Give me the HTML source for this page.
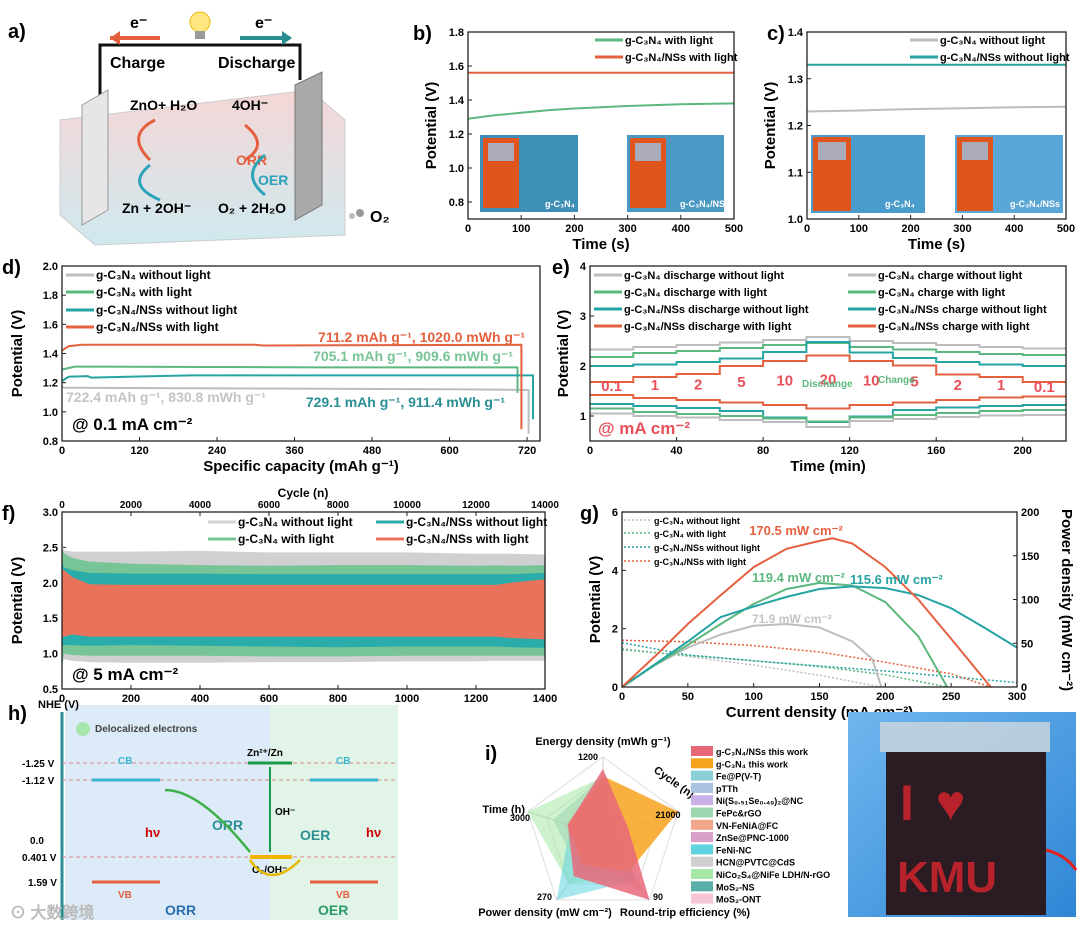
<!DOCTYPE html>
<html><head><meta charset="utf-8"><style>
body{margin:0;background:#fff}
svg{display:block;font-family:"Liberation Sans",Arial,sans-serif}
text{font-weight:bold}
</style></head><body>
<svg id="fig" width="1080" height="930" viewBox="0 0 1080 930" xmlns="http://www.w3.org/2000/svg">
<defs>
<linearGradient id="boxg" x1="0" y1="0" x2="0" y2="1"><stop offset="0" stop-color="#f3c9c9"/><stop offset="1" stop-color="#bfe3ea"/></linearGradient>
<linearGradient id="jbg" x1="0" y1="0" x2="1" y2="1"><stop offset="0" stop-color="#6fb6ee"/><stop offset="1" stop-color="#2f86d6"/></linearGradient>
</defs>
<g>
<text x="8" y="38" font-size="20">a)</text>
<polyline points="100,95 100,45 300,45 300,80" fill="none" stroke="#111" stroke-width="3"/>
<circle cx="200" cy="22" r="10" fill="#ffe680" stroke="#e6b800"/>
<rect x="195" y="31" width="10" height="8" fill="#999"/>
<path d="M110 38 L160 38" stroke="#e5603e" stroke-width="4"/><path d="M110 38 l10 -7 v14z" fill="#e5603e"/>
<text x="130" y="28" font-size="16">e⁻</text>
<path d="M240 38 L290 38" stroke="#2a8f93" stroke-width="4"/><path d="M292 38 l-10 -7 v14z" fill="#2a8f93"/>
<text x="255" y="28" font-size="16">e⁻</text>
<text x="110" y="68" font-size="16">Charge</text>
<text x="218" y="68" font-size="16">Discharge</text>
<polygon points="60,120 310,90 345,120 345,235 95,245 60,215" fill="url(#boxg)" opacity="0.75" stroke="#bbb"/>
<polygon points="82,105 108,90 108,210 82,225" fill="#e6e6e6" stroke="#999"/>
<polygon points="295,85 322,72 322,205 295,220" fill="#a9a9a9" stroke="#777"/>
<text x="130" y="110" font-size="14">ZnO+ H₂O</text>
<text x="232" y="110" font-size="14">4OH⁻</text>
<text x="236" y="165" font-size="14" fill="#e5603e">ORR</text>
<text x="258" y="185" font-size="14" fill="#2ba3b8">OER</text>
<text x="122" y="213" font-size="14">Zn + 2OH⁻</text>
<text x="218" y="213" font-size="14">O₂ + 2H₂O</text>
<text x="370" y="222" font-size="16">O₂</text>
<path d="M150 160 q-25 -25 5 -40" fill="none" stroke="#e5603e" stroke-width="3"/>
<path d="M150 165 q-25 20 10 35" fill="none" stroke="#2ba3b8" stroke-width="3"/>
<path d="M245 125 q25 20 0 35" fill="none" stroke="#e5603e" stroke-width="3"/>
<path d="M265 195 q-25 -20 0 -40" fill="none" stroke="#2ba3b8" stroke-width="3"/>
<circle cx="360" cy="213" r="4" fill="#999"/><circle cx="352" cy="216" r="3" fill="#bbb"/>
</g>
<g id="charts"></g>
<g>
<text x="8" y="720" font-size="20">h)</text>
<rect x="65" y="705" width="205" height="215" fill="#dcebf7"/>
<rect x="270" y="705" width="128" height="215" fill="#e2f3e8"/>
<text x="38" y="708" font-size="11">NHE (V)</text>
<line x1="62" y1="712" x2="62" y2="920" stroke="#2a8f93" stroke-width="3"/>
<text x="95" y="732" font-size="10" fill="#444">Delocalized electrons</text>
<circle cx="83" cy="729" r="7" fill="#9be39b" opacity="0.8"/>
<g font-size="10" font-weight="bold">
<text x="22" y="767">-1.25 V</text>
<text x="22" y="784">-1.12 V</text>
<text x="30" y="844">0.0</text>
<text x="22" y="861">0.401 V</text>
<text x="28" y="886">1.59 V</text>
</g>
<g stroke="#d98a8a" stroke-dasharray="4,3"><line x1="62" y1="763" x2="398" y2="763"/><line x1="62" y1="780" x2="398" y2="780"/><line x1="62" y1="857" x2="398" y2="857"/></g>
<line x1="92" y1="780" x2="160" y2="780" stroke="#3ab6d0" stroke-width="3"/>
<line x1="92" y1="882" x2="160" y2="882" stroke="#e5603e" stroke-width="3"/>
<line x1="310" y1="780" x2="378" y2="780" stroke="#3ab6d0" stroke-width="3"/>
<line x1="310" y1="882" x2="378" y2="882" stroke="#e5603e" stroke-width="3"/>
<text x="118" y="764" font-size="10" fill="#3ab6d0">CB</text><text x="336" y="764" font-size="10" fill="#3ab6d0">CB</text>
<text x="118" y="898" font-size="10" fill="#e5603e">VB</text><text x="336" y="898" font-size="10" fill="#e5603e">VB</text>
<line x1="248" y1="763" x2="292" y2="763" stroke="#1a9a4a" stroke-width="3"/>
<text x="247" y="756" font-size="10">Zn²⁺/Zn</text>
<line x1="250" y1="857" x2="292" y2="857" stroke="#f2b400" stroke-width="4"/>
<text x="252" y="873" font-size="10">O₂/OH⁻</text>
<line x1="270" y1="767" x2="270" y2="852" stroke="#1a9a4a" stroke-width="2"/>
<text x="275" y="815" font-size="10">OH⁻</text>
<text x="212" y="830" font-size="14" fill="#2a8f93">ORR</text>
<text x="300" y="840" font-size="14" fill="#2a8f93">OER</text>
<text x="165" y="915" font-size="14" fill="#2a6fb0">ORR</text>
<text x="318" y="915" font-size="14" fill="#2a9a6a">OER</text>
<text x="145" y="837" font-size="13" fill="#c00">hν</text><text x="366" y="837" font-size="13" fill="#c00">hν</text>
<path d="M165 790 Q200 790 250 852" fill="none" stroke="#3db04a" stroke-width="2.5"/>
<path d="M300 860 Q270 890 250 860" fill="none" stroke="#e6b800" stroke-width="2.5"/>
<text x="10" y="918" font-size="16" fill="#bbb" font-weight="normal">⊙ 大数跨境</text>
</g>
<g>
<text x="850" y="735" font-size="20">j)</text>
<rect x="848" y="712" width="228" height="205" fill="url(#jbg)"/>
<rect x="886" y="752" width="160" height="163" fill="#2a1c22"/>
<rect x="880" y="722" width="170" height="30" fill="#cfd8dc" opacity="0.8"/>
<text x="900" y="820" font-size="50" fill="#b8222a" font-weight="bold" letter-spacing="4">I ♥</text>
<text x="897" y="892" font-size="44" fill="#b8222a" font-weight="bold">KMU</text>
<path d="M1046 850 q20 5 30 20" stroke="#e02020" stroke-width="3" fill="none"/>
</g>
</svg>
<script>
const bTime=[0,50,100,150,200,300,400,500];
const bGreen=[1.29,1.31,1.325,1.34,1.35,1.365,1.375,1.38];
const bRed=[1.56,1.56,1.56,1.56,1.56,1.56,1.56,1.56];
const cTime=[0,100,200,300,400,500];
const cGray=[1.23,1.232,1.235,1.237,1.239,1.24];
const cTeal=[1.33,1.33,1.33,1.33,1.33,1.33];
const dCapRed=[0,10,30,300,310,711,711.2,711.2];
const dVRed=[1.42,1.45,1.46,1.46,1.455,1.46,1.46,0.88];
const dCapGreen=[0,20,60,400,705,705.1,705.1];
const dVGreen=[1.29,1.31,1.31,1.305,1.305,1.305,1.13];
const dCapTeal=[0,10,40,45,200,600,729,729.1,729.1];
const dVTeal=[1.21,1.24,1.245,1.235,1.25,1.25,1.25,1.25,0.95];
const dCapGray=[0,5,300,600,722,722.4,722.4];
const dVGray=[1.17,1.165,1.16,1.155,1.15,1.15,0.85];
const eRates=["0.1","1","2","5","10","20","10","5","2","1","0.1"];
const eGrayC=[2.33,2.38,2.42,2.47,2.52,2.58,2.50,2.46,2.42,2.38,2.35];
const eGreenC=[2.18,2.26,2.30,2.36,2.42,2.46,2.38,2.33,2.28,2.24,2.22];
const eTealC=[2.00,2.03,2.08,2.15,2.28,2.48,2.27,2.16,2.08,2.03,2.00];
const eRedC=[1.68,1.78,1.84,2.00,2.10,2.21,2.10,2.01,1.83,1.78,1.68];
const eRedD=[1.42,1.36,1.32,1.27,1.22,1.15,1.22,1.27,1.32,1.37,1.39];
const eTealD=[1.24,1.20,1.16,1.10,0.97,0.88,0.99,1.12,1.17,1.20,1.22];
const eGreenD=[1.15,1.08,1.04,1.00,0.95,0.89,0.97,1.02,1.06,1.10,1.12];
const eGrayD=[1.05,1.00,0.97,0.92,0.88,0.78,0.90,0.94,0.98,1.01,1.02];
const fTime=[0,5,30,80,200,400,600,800,1000,1200,1260,1300,1400];
const fGrayUp=[2.6,2.46,2.44,2.44,2.44,2.45,2.43,2.43,2.43,2.41,2.41,2.41,2.40];
const fGrayLo=[0.8,0.92,0.9,0.88,0.87,0.87,0.88,0.88,0.89,0.89,0.9,0.9,0.9];
const fGreenUp=[2.5,2.42,2.35,2.30,2.27,2.25,2.24,2.25,2.25,2.24,2.25,2.24,2.25];
const fGreenLo=[0.8,1.0,0.98,0.97,0.97,0.97,0.96,0.96,0.97,0.97,0.97,0.97,0.97];
const fTealUp=[2.3,2.22,2.18,2.14,2.13,2.13,2.12,2.12,2.12,2.12,2.12,2.12,2.14];
const fTealLo=[1.1,1.12,1.12,1.11,1.12,1.11,1.10,1.09,1.10,1.10,1.10,1.09,1.08];
const fRedUp=[2.2,2.18,2.08,1.98,1.97,1.97,1.97,1.97,1.97,1.97,1.97,2.0,2.05];
const fRedLo=[1.22,1.24,1.27,1.24,1.24,1.24,1.24,1.24,1.24,1.24,1.24,1.22,1.20];
const gJGray=[0,50,100,150,197];
const gVGray=[1.32,1.05,0.75,0.4,0];
const gJGreen=[0,50,100,150,200,247];
const gVGreen=[1.28,1.08,0.9,0.7,0.42,0];
const gJTeal=[0,20,50,100,150,200,250,300];
const gVTeal=[1.52,1.35,1.1,0.9,0.72,0.55,0.35,0.15];
const gJRed=[0,50,100,150,200,250,280];
const gVRed=[1.6,1.55,1.42,1.2,0.85,0.45,0];
const gPJGray=[0,25,50,75,100,125,150,175,190,197];
const gPGray=[0,25,45,60,70,72,68,52,32,0];
const gPJGreen=[0,25,50,75,100,125,150,175,200,225,247];
const gPGreen=[0,25,48,72,95,112,119,116,97,58,0];
const gPJTeal=[0,25,50,75,100,125,150,175,200,225,250,275,300];
const gPTeal=[0,26,52,80,92,103,112,115,113,105,90,68,45];
const gPJRed=[0,25,50,75,100,125,150,160,175,200,225,250,280];
const gPRed=[0,35,72,105,137,158,167,170,164,137,100,55,0];
const rAxes=["Energy density (mWh g⁻¹)","Cycle (n)","Round-trip efficiency (%)","Power density (mW cm⁻²)","Time (h)"];
const rMax=[1200,21000,90,270,3000];
const rNames=["g-C₃N₄/NSs this work","g-C₃N₄ this work","Fe@P(V-T)","pTTh","Ni(S₀.₅₁Se₀.₄₉)₂@NC","FePc&rGO","VN-FeNiA@FC","ZnSe@PNC-1000","FeNi-NC","HCN@PVTC@CdS","NiCo₂S₄@NiFe LDH/N-rGO","MoS₂-NS","MoS₂-ONT"];
const rColors=["#e8687a","#f7a21c","#8ccfd6","#a9c3e0","#c9b0e6","#9ed6b0","#f2a68a","#d9a0c8","#5fd3e0","#cfcfcf","#a6e8a6","#5aaea8","#f6c6d6"];
const rVals=[
[1020,7000,90,170,1400],
[910,21000,50,120,1400],
[880,3000,62,90,1000],
[800,2000,60,60,800],
[860,4000,65,100,1300],
[900,5000,65,140,2000],
[850,3000,62,120,1500],
[880,2500,60,90,1200],
[870,3500,62,270,1300],
[860,3000,80,80,1000],
[900,6000,60,200,3000],
[850,2000,58,150,1100],
[830,2500,85,90,900]];

const NS="http://www.w3.org/2000/svg";
const root=document.getElementById('charts');
function el(tag,attrs,parent){const e=document.createElementNS(NS,tag);for(const k in attrs)e.setAttribute(k,attrs[k]);(parent||root).appendChild(e);return e;}
function txt(x,y,s,size,attrs,parent){const t=el('text',Object.assign({x:x,y:y,'font-size':size},attrs||{}),parent);t.textContent=s;return t;}
function axes(c){
  const g=el('g',{});
  
  
  const sx=v=>c.L+(v-c.x0)/(c.x1-c.x0)*(c.R-c.L);
  const sy=v=>c.B-(v-c.y0)/(c.y1-c.y0)*(c.B-c.T);
  c.xt.forEach(v=>{el('line',{x1:sx(v),x2:sx(v),y1:c.B,y2:c.B-4,stroke:'#222'},g);const t=txt(sx(v),c.B+13,String(v),11,{'text-anchor':'middle'},g);});
  c.yt.forEach(v=>{el('line',{x1:c.L,x2:c.L+4,y1:sy(v),y2:sy(v),stroke:'#222'},g);const t=txt(c.L-4,sy(v)+4,c.yf?c.yf(v):String(v),11,{'text-anchor':'end'},g);});
  const xt=txt((c.L+c.R)/2,c.B+30,c.xlabel,15,{'text-anchor':'middle'},g);
  
  const yt=txt(0,0,c.ylabel,15,{'text-anchor':'middle',transform:`translate(${c.L-(c.ylo||32)},${(c.T+c.B)/2}) rotate(-90)`},g);
  
  const pl=txt(c.L-(c.plx||55),c.T+8,c.panel,20,{},g);
  
  const plot=el('g',{},g);
  el('rect',{x:c.L,y:c.T,width:c.R-c.L,height:c.B-c.T,fill:'none',stroke:'#222','stroke-width':1.3},g);
  return {sx,sy,g,plot};
}
function line(ax,xs,ys,color,name,w,dash){
  const d=xs.map((x,i)=>(i?'L':'M')+ax.sx(x).toFixed(1)+' '+ax.sy(ys[i]).toFixed(1)).join('');
  const p=el('path',{d:d,fill:'none',stroke:color,'stroke-width':w||2,'stroke-dasharray':dash||'none'},ax.plot);
  return p;
}
function legend(parent,x,y,color,label,name,dash,size){
  const g=el('g',{},parent);
  
  el('line',{x1:x,x2:x+28,y1:y-4,y2:y-4,stroke:color,'stroke-width':dash?1.5:3,'stroke-dasharray':dash?'2,2':'none'},g);
  txt(x+30,y,label,size||11,{},g);
}
const GR='#bdbdbd',GN='#5cb87e',TL='#26a3a3',RD='#e5603e';

{const ax=axes({name:'panel-b-chart',panel:'b)',L:468,R:734,T:32,B:219,x0:0,x1:500,y0:0.7,y1:1.8,xt:[0,100,200,300,400,500],yt:[0.8,1.0,1.2,1.4,1.6,1.8],yf:v=>v.toFixed(1),xlabel:'Time (s)',ylabel:'Potential (V)',ylo:32});
 el('rect',{x:480,y:135,width:98,height:77,fill:'#3d8fb8'},ax.plot);el('rect',{x:627,y:135,width:97,height:77,fill:'#4a98c4'},ax.plot);
 el('rect',{x:483,y:138,width:36,height:70,fill:'#e0551e'},ax.plot);el('rect',{x:630,y:138,width:36,height:70,fill:'#e0551e'},ax.plot);
 el('rect',{x:488,y:143,width:26,height:18,fill:'#aab'},ax.plot);el('rect',{x:635,y:143,width:26,height:18,fill:'#aab'},ax.plot);
 txt(545,207,'g-C₃N₄',9,{fill:'#fff'},ax.plot);txt(680,207,'g-C₃N₄/NSs',9,{fill:'#fff'},ax.plot);
 line(ax,bTime,bGreen,GN,'series-gc3n4-with-light');line(ax,bTime,bRed,RD,'series-nss-with-light');
 legend(ax.g,595,44,GN,'g-C₃N₄ with light','legend-entry-green');legend(ax.g,595,61,RD,'g-C₃N₄/NSs with light','legend-entry-red');}
{const ax=axes({name:'panel-c-chart',panel:'c)',L:807,R:1066,T:32,B:219,x0:0,x1:500,y0:1.0,y1:1.4,xt:[0,100,200,300,400,500],yt:[1.0,1.1,1.2,1.3,1.4],yf:v=>v.toFixed(1),xlabel:'Time (s)',ylabel:'Potential (V)',ylo:32,plx:40});
 el('rect',{x:811,y:135,width:114,height:78,fill:'#4a9ccc'},ax.plot);el('rect',{x:955,y:135,width:108,height:78,fill:'#5aa6d6'},ax.plot);
 el('rect',{x:813,y:137,width:38,height:74,fill:'#e0551e'},ax.plot);el('rect',{x:957,y:137,width:36,height:74,fill:'#e0551e'},ax.plot);
 el('rect',{x:818,y:142,width:28,height:18,fill:'#aab'},ax.plot);el('rect',{x:962,y:142,width:26,height:18,fill:'#aab'},ax.plot);
 txt(885,207,'g-C₃N₄',9,{fill:'#fff'},ax.plot);txt(1010,207,'g-C₃N₄/NSs',9,{fill:'#fff'},ax.plot);
 line(ax,cTime,cGray,GR,'series-gc3n4-without-light');line(ax,cTime,cTeal,TL,'series-nss-without-light');
 legend(ax.g,910,44,GR,'g-C₃N₄ without light','legend-entry-gray');legend(ax.g,910,61,TL,'g-C₃N₄/NSs without light','legend-entry-teal');}
{const ax=axes({name:'panel-d-chart',panel:'d)',L:62,R:540,T:266,B:441,x0:0,x1:740,y0:0.8,y1:2.0,xt:[0,120,240,360,480,600,720],yt:[0.8,1.0,1.2,1.4,1.6,1.8,2.0],yf:v=>v.toFixed(1),xlabel:'Specific capacity (mAh g⁻¹)',ylabel:'Potential (V)',ylo:40,plx:60});
 line(ax,dCapGray,dVGray,GR,'series-gc3n4-without-light');line(ax,dCapGreen,dVGreen,GN,'series-gc3n4-with-light');
 line(ax,dCapTeal,dVTeal,TL,'series-nss-without-light');line(ax,dCapRed,dVRed,RD,'series-nss-with-light');
 legend(ax.g,66,279,GR,'g-C₃N₄ without light','legend-entry-gray',0,12);legend(ax.g,66,296,GN,'g-C₃N₄ with light','legend-entry-green',0,12);
 legend(ax.g,66,314,TL,'g-C₃N₄/NSs without light','legend-entry-teal',0,12);legend(ax.g,66,331,RD,'g-C₃N₄/NSs with light','legend-entry-red',0,12);
 txt(525,342,'711.2 mAh g⁻¹, 1020.0 mWh g⁻¹',14,{fill:RD,'text-anchor':'end'},ax.g);
 txt(513,361,'705.1 mAh g⁻¹, 909.6 mWh g⁻¹',14,{fill:'#77c497','text-anchor':'end'},ax.g);
 txt(66,402,'722.4 mAh g⁻¹, 830.8 mWh g⁻¹',14,{fill:'#c4c4c4'},ax.g);
 txt(505,407,'729.1 mAh g⁻¹, 911.4 mWh g⁻¹',14,{fill:'#2a8f93','text-anchor':'end'},ax.g);
 txt(72,430,'@ 0.1 mA cm⁻²',17,{},ax.g);}
{const ax=axes({name:'panel-e-chart',panel:'e)',L:590,R:1066,T:266,B:441,x0:0,x1:220,y0:0.5,y1:4,xt:[0,40,80,120,160,200],yt:[1,2,3,4],xlabel:'Time (min)',ylabel:'Potential (V)',ylo:22,plx:38});
 function steps(vals){const xs=[],ys=[];vals.forEach((v,i)=>{xs.push(i*20,(i+1)*20);ys.push(v,v);});return [xs,ys];}
 [[eGrayC,GR,'gray-charge'],[eGreenC,GN,'green-charge'],[eTealC,TL,'teal-charge'],[eRedC,RD,'red-charge'],[eRedD,RD,'red-discharge'],[eTealD,TL,'teal-discharge'],[eGreenD,GN,'green-discharge'],[eGrayD,GR,'gray-discharge']].forEach(s=>{const [xs,ys]=steps(s[0]);line(ax,xs,ys,s[1],'series-'+s[2]);});
 eRates.forEach((r,i)=>{const t=txt(ax.sx(i*20+10),ax.sy((eRedD[i]+eRedC[i])/2-0.05),r,15,{fill:'#e8505a','text-anchor':'middle'},ax.g);});
 const L1=[['g-C₃N₄ discharge without light',GR],['g-C₃N₄  discharge with light',GN],['g-C₃N₄/NSs discharge without light',TL],['g-C₃N₄/NSs discharge with light',RD]];
 const L2=[['g-C₃N₄ charge without light',GR],['g-C₃N₄ charge with light',GN],['g-C₃N₄/NSs charge without light',TL],['g-C₃N₄/NSs charge with light',RD]];
 L1.forEach((l,i)=>legend(ax.g,594,279+i*17,l[1],l[0],'legend-entry-discharge',0,11));
 L2.forEach((l,i)=>legend(ax.g,848,279+i*17,l[1],l[0],'legend-entry-charge',0,11));
 txt(802,387,'Dischange',10,{fill:GN},ax.g);txt(878,383,'Change',10,{fill:GN},ax.g);
 txt(598,434,'@ mA cm⁻²',17,{fill:'#e8505a'},ax.g);}
{const ax=axes({name:'panel-f-chart',panel:'f)',L:62,R:545,T:512,B:689,x0:0,x1:1400,y0:0.5,y1:3.0,xt:[0,200,400,600,800,1000,1200,1400],yt:[0.5,1.0,1.5,2.0,2.5,3.0],yf:v=>v.toFixed(1),xlabel:'Time (h)',ylabel:'Potential (V)',ylo:40,plx:60});
 function band(up,lo,color,name){const d=fTime.map((x,i)=>(i?'L':'M')+ax.sx(x).toFixed(1)+' '+ax.sy(up[i]).toFixed(1)).join('')+fTime.slice().reverse().map((x,j)=>{const i=fTime.length-1-j;return 'L'+ax.sx(x).toFixed(1)+' '+ax.sy(lo[i]).toFixed(1);}).join('')+'Z';const p=el('path',{d:d,fill:color},ax.plot);}
 band(fGrayUp,fGrayLo,'#d0d0d0','band-gc3n4-without-light');band(fGreenUp,fGreenLo,'#77c497','band-gc3n4-with-light');
 band(fTealUp,fTealLo,'#2aacaa','band-nss-without-light');band(fRedUp,fRedLo,'#e8735a','band-nss-with-light');
 [0,2000,4000,6000,8000,10000,12000,14000].forEach(v=>{const x=ax.sx(v/10);el('line',{x1:x,x2:x,y1:512,y2:516,stroke:'#222'},ax.g);const t=txt(x,508,String(v),10,{'text-anchor':'middle'},ax.g);});
 const ct=txt(303,497,'Cycle (n)',12,{'text-anchor':'middle'},ax.g);
 legend(ax.g,208,526,'#d0d0d0','g-C₃N₄ without light','legend-entry-gray',0,12);legend(ax.g,208,543,'#77c497','g-C₃N₄ with light','legend-entry-green',0,12);
 legend(ax.g,376,526,'#2aacaa','g-C₃N₄/NSs without light','legend-entry-teal',0,12);legend(ax.g,376,543,'#e8735a','g-C₃N₄/NSs with light','legend-entry-red',0,12);
 txt(72,680,'@ 5 mA cm⁻²',17,{},ax.g);}
{const ax=axes({name:'panel-g-chart',panel:'g)',L:622,R:1017,T:512,B:687,x0:0,x1:300,y0:0,y1:6,xt:[0,50,100,150,200,250,300],yt:[0,2,4,6],xlabel:'Current density (mA cm⁻²)',ylabel:'Potential (V)',ylo:22,plx:42});
 const sp=v=>687-v/200*175;
 [0,50,100,150,200].forEach(v=>{el('line',{x1:1017,x2:1013,y1:sp(v),y2:sp(v),stroke:'#222'},ax.g);const t=txt(1021,sp(v)+4,String(v),11,{},ax.g);});
 const rt=txt(0,0,'Power density (mW cm⁻²)',15,{'text-anchor':'middle',transform:'translate(1062,600) rotate(90)'},ax.g);
 line(ax,gJGray,gVGray,GR,'polarization-gray',1.5,'2,2');line(ax,gJGreen,gVGreen,GN,'polarization-green',1.5,'2,2');
 line(ax,gJTeal,gVTeal,TL,'polarization-teal',1.5,'2,2');line(ax,gJRed,gVRed,RD,'polarization-red',1.5,'2,2');
 const pw=(xs,ys,c,n)=>line(ax,xs,ys.map(p=>p*6/200),c,n,2);
 pw(gPJGray,gPGray,GR,'power-gray');pw(gPJGreen,gPGreen,GN,'power-green');pw(gPJTeal,gPTeal,TL,'power-teal');pw(gPJRed,gPRed,RD,'power-red');
 legend(ax.g,624,524,GR,'g-C₃N₄ without light','legend-entry-gray',1,9);legend(ax.g,624,537,GN,'g-C₃N₄ with light','legend-entry-green',1,9);
 legend(ax.g,624,551,TL,'g-C₃N₄/NSs without light','legend-entry-teal',1,9);legend(ax.g,624,565,RD,'g-C₃N₄/NSs with light','legend-entry-red',1,9);
 txt(796,535,'170.5 mW cm⁻²',13,{fill:RD,'text-anchor':'middle'},ax.g);
 txt(752,582,'119.4 mW cm⁻²',13,{fill:GN},ax.g);
 txt(850,584,'115.6 mW cm⁻²',13,{fill:TL},ax.g);
 txt(752,623,'71.9 mW cm⁻²',12,{fill:'#c4c4c4'},ax.g);}
{const g=el('g',{});
 
 const pl=txt(485,760,'i)',20,{},g);
 const cx=603,cy=836,R=79;
 const ang=i=>-Math.PI/2+i*2*Math.PI/5;
 const pt=(i,f)=>[cx+R*f*Math.cos(ang(i)),cy+R*f*Math.sin(ang(i))];
 [0.25,0.5,0.75,1].forEach(f=>{el('polygon',{points:[0,1,2,3,4].map(i=>pt(i,f).join(',')).join(' '),fill:'none',stroke:'#ddd'},g);});
 [0,1,2,3,4].forEach(i=>{const p=pt(i,1);el('line',{x1:cx,y1:cy,x2:p[0],y2:p[1],stroke:'#ccc'},g);});
 rVals.slice().reverse().forEach((vals,jr)=>{const j=rVals.length-1-jr;const poly=el('polygon',{points:vals.map((v,i)=>pt(i,v/rMax[i]).join(',')).join(' '),fill:rColors[j],'fill-opacity':j<2?0.85:0.55},g);});
 const t0=txt(603,745,rAxes[0],11,{'text-anchor':'middle'},g);
 const t1=txt(0,0,rAxes[1],11,{'text-anchor':'middle',transform:'translate(672,785) rotate(35)'},g);
 const t2=txt(685,916,rAxes[2],11,{'text-anchor':'middle'},g);
 const t3=txt(545,916,rAxes[3],11,{'text-anchor':'middle'},g);
 const t4=txt(525,813,rAxes[4],11,{'text-anchor':'end'},g);
 txt(598,760,'1200',9,{'text-anchor':'end'},g);txt(668,818,'21000',9,{'text-anchor':'middle'},g);txt(653,900,'90',9,{},g);txt(552,900,'270',9,{'text-anchor':'end'},g);txt(530,821,'3000',9,{'text-anchor':'end'},g);
 rNames.forEach((n,k)=>{const y=751+k*12.3;el('rect',{x:691,y:y-5,width:22,height:10,fill:rColors[k]},g);const t=txt(716,y+4,n,9,{},g);});}
</script>
</body></html>
